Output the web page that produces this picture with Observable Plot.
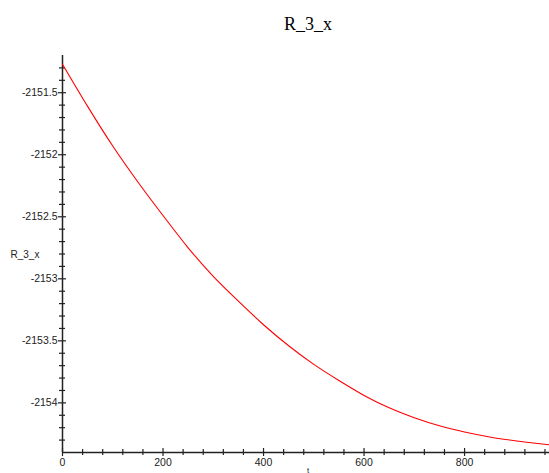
<!DOCTYPE html>
<html>
<head>
<meta charset="utf-8">
<script src="https://cdn.jsdelivr.net/npm/d3@7"></script>
<script src="https://cdn.jsdelivr.net/npm/@observablehq/plot@0.6"></script>
<style>
  html, body { margin: 0; padding: 0; background: #fff; }
  #chart svg { display: block; }
</style>
</head>
<body>
<div id="chart"></div>
<script>
// Data
const tValues = [0, 50, 100, 150, 200, 250, 300, 350, 400, 450, 500, 550, 600, 650, 700, 750, 800, 850, 900, 950, 968];
const r3xValues = [-2151.27, -2151.61, -2151.93, -2152.22, -2152.49, -2152.75, -2152.98, -2153.18, -2153.37, -2153.54, -2153.69, -2153.82, -2153.94, -2154.04, -2154.12, -2154.185, -2154.235, -2154.275, -2154.305, -2154.33, -2154.338];
const xMajorTicks = [0, 200, 400, 600, 800];
const xMinorTicks = [40, 80, 120, 160, 240, 280, 320, 360, 440, 480, 520, 560, 640, 680, 720, 760, 840, 880, 920, 960];
const yMajorTicks = [-2151.5, -2152, -2152.5, -2153, -2153.5, -2154];
const yMinorTicks = [-2151.3, -2151.4, -2151.6, -2151.7, -2151.8, -2151.9, -2152.1, -2152.2, -2152.3, -2152.4, -2152.6, -2152.7, -2152.8, -2152.9, -2153.1, -2153.2, -2153.3, -2153.4, -2153.6, -2153.7, -2153.8, -2153.9, -2154.1, -2154.2, -2154.3];
const titleText = "R_3_x";
const yLabelText = "R_3_x";
const xLabelText = "t";

const data = tValues.map((t, i) => ({t, v: r3xValues[i]}));
const xDomain = [0, 969];
const yDomain = [-2154.40, -2151.20];
const axisColor = "#222";
const font = "'Liberation Sans', Arial, sans-serif";

const chart = Plot.plot({
  width: 549,
  height: 473,
  marginLeft: 62,
  marginRight: 0,
  marginTop: 55,
  marginBottom: 21,
  style: {fontFamily: font, fontSize: "10.5px", color: "#222", background: "#fff", overflow: "hidden"},
  x: {domain: xDomain},
  y: {domain: yDomain},
  marks: [
    // axis lines
    Plot.ruleX([xDomain[0]], {stroke: axisColor, strokeWidth: 1.5}),
    Plot.ruleY([yDomain[0]], {stroke: axisColor, strokeWidth: 1.5}),
    // y ticks (crossing the axis)
    Plot.axisY(yMinorTicks, {tickSize: 6, dx: 3, text: null, label: null, stroke: axisColor, strokeWidth: 1.2}),
    Plot.axisY(yMajorTicks, {tickSize: 8, dx: 4, text: null, label: null, stroke: axisColor, strokeWidth: 1.2}),
    Plot.axisY(yMajorTicks, {tickSize: 0, tickPadding: 5, tickFormat: d => String(d), fill: "#222", label: null}),
    // x ticks (crossing the axis)
    Plot.axisX(xMinorTicks, {tickSize: 6, dy: -3, text: null, label: null, stroke: axisColor, strokeWidth: 1.2}),
    Plot.axisX(xMajorTicks, {tickSize: 8, dy: -4, text: null, label: null, stroke: axisColor, strokeWidth: 1.2}),
    Plot.axisX(xMajorTicks, {tickSize: 0, tickPadding: 6, tickFormat: d => String(d), fill: "#222", label: null}),
    // data line
    Plot.line(data, {x: "t", y: "v", stroke: "#ff0000", strokeWidth: 1.1, curve: "monotone-x"}),
    // title
    Plot.text([titleText], {frameAnchor: "top", dy: -38, dx: 2, fontFamily: "'Liberation Serif', 'Times New Roman', serif", fontSize: 18, fill: "#000"}),
    // y label
    Plot.text([yLabelText], {frameAnchor: "left", dx: -52, dy: 1, textAnchor: "start", fontSize: 10, fill: "#222"}),
    // x label (at the very bottom edge, as in the reference)
    Plot.text([xLabelText], {frameAnchor: "bottom", dy: 20, dx: 2, lineAnchor: "bottom", fontSize: 8, fill: "#223"})
  ]
});
document.getElementById("chart").appendChild(chart);
</script>
</body>
</html>
